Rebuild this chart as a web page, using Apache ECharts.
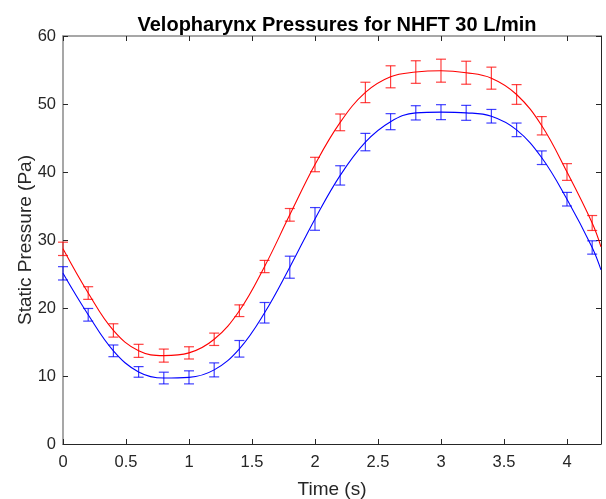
<!DOCTYPE html>
<html>
<head>
<meta charset="utf-8">
<script src="https://cdn.jsdelivr.net/npm/echarts@6/dist/echarts.min.js"></script>
<style>
  html, body { margin: 0; padding: 0; background: #fff; }
  #main { width: 606px; height: 499px; }
</style>
</head>
<body>
<div id="main"></div>
<script>
// sample times (s)
var times = [0, 0.2, 0.4, 0.6, 0.8, 1.0, 1.2, 1.4, 1.6, 1.8, 2.0, 2.2, 2.4, 2.6, 2.8, 3.0, 3.2, 3.4, 3.6, 3.8, 4.0, 4.2];
// red series mean and half error
var redMean = [28.7, 22.2, 16.7, 13.7, 13.0, 13.4, 15.4, 19.6, 26.1, 33.7, 41.1, 47.3, 51.7, 54.0, 54.7, 54.9, 54.6, 53.8, 51.4, 46.8, 40.0, 32.5];
var redErr = [0.98, 0.93, 0.98, 0.96, 0.96, 0.90, 0.91, 0.86, 0.90, 0.93, 1.06, 1.23, 1.50, 1.62, 1.66, 1.69, 1.69, 1.62, 1.45, 1.35, 1.23, 1.10];
// blue series mean and half error
var blueMean = [25.1, 19.0, 13.7, 10.6, 9.7, 9.8, 10.9, 14.0, 19.3, 26.0, 33.1, 39.5, 44.4, 47.4, 48.7, 48.8, 48.7, 48.2, 46.2, 42.1, 36.0, 28.9];
var blueErr = [0.98, 0.93, 0.86, 0.78, 0.86, 0.96, 1.03, 1.22, 1.51, 1.62, 1.67, 1.42, 1.28, 1.18, 1.05, 1.10, 1.10, 1.00, 1.00, 1.00, 1.00, 0.98];
// end of the fitted curves at the right edge
var endTime = 4.27;
var redEnd = 29.0;
var blueEnd = 25.6;

var chart = echarts.init(document.getElementById('main'));

function curveData(mean, endVal){
    var d = [];
    for (var i = 0; i < times.length; i++) {
        d.push([times[i], mean[i]]);
    }
    d.push([endTime, endVal]);
    return d;
}

function errData(mean, err){
    var d = [];
    for (var i = 0; i < times.length; i++) {
        d.push([times[i], mean[i] - err[i], mean[i] + err[i]]);
    }
    return d;
}

// vertical bar with caps
function errRender(color){
    return function(params, api){
        var lo = api.coord([api.value(0), api.value(1)]);
        var hi = api.coord([api.value(0), api.value(2)]);
        var w = 5;
        var style = { stroke: color, lineWidth: 1.2, opacity: 0.75 };
        return {
            type: 'group',
            children: [
                { type: 'line', shape: { x1: lo[0], y1: lo[1], x2: hi[0], y2: hi[1] }, style: style },
                { type: 'line', shape: { x1: lo[0] - w, y1: lo[1], x2: lo[0] + w, y2: lo[1] }, style: style },
                { type: 'line', shape: { x1: hi[0] - w, y1: hi[1], x2: hi[0] + w, y2: hi[1] }, style: style }
            ]
        };
    };
}

var axisCol = '#262626';
var fontFam = 'Liberation Sans, Arial, sans-serif';

var options = {
    backgroundColor: '#fff',
    animation: false,
    title: {
        text: 'Velopharynx Pressures for NHFT 30 L/min',
        left: 332,
        textAlign: 'center',
        top: 10,
        textStyle: { fontFamily: fontFam, fontSize: 20, fontWeight: 'bold', color: '#000' }
    },
    grid: { left: 63, right: 5, top: 36, bottom: 55, show: false, outerBoundsMode: 'none' },
    xAxis: [{
        type: 'value',
        min: 0,
        max: endTime,
        interval: 0.5,
        name: 'Time (s)',
        nameLocation: 'middle',
        nameGap: 36,
        nameMoveOverlap: false,
        nameTextStyle: { fontFamily: fontFam, fontSize: 19, color: axisCol },
        axisLine: { onZero: false, lineStyle: { color: axisCol, width: 1 } },
        axisTick: { inside: true, length: 5, lineStyle: { color: axisCol } },
        axisLabel: { fontFamily: fontFam, fontSize: 16.5, color: axisCol, margin: 10, showMaxLabel: false },
        splitLine: { show: false }
    }, {
        type: 'value',
        position: 'top',
        min: 0,
        max: endTime,
        interval: 0.5,
        axisLine: { show: true, onZero: false, lineStyle: { color: '#8a8a8a', width: 1.5 } },
        axisTick: { inside: true, length: 5, lineStyle: { color: axisCol } },
        axisLabel: { show: false },
        splitLine: { show: false }
    }],
    yAxis: [{
        type: 'value',
        min: 0,
        max: 60,
        interval: 10,
        name: 'Static Pressure (Pa)',
        nameLocation: 'middle',
        nameGap: 28,
        nameMoveOverlap: false,
        nameTextStyle: { fontFamily: fontFam, fontSize: 19, color: axisCol },
        axisLine: { show: true, onZero: false, lineStyle: { color: '#8a8a8a', width: 1.5 } },
        axisTick: { inside: true, length: 5, lineStyle: { color: axisCol } },
        axisLabel: { fontFamily: fontFam, fontSize: 16.5, color: axisCol, margin: 7 },
        splitLine: { show: false }
    }, {
        type: 'value',
        position: 'right',
        min: 0,
        max: 60,
        interval: 10,
        axisLine: { show: true, onZero: false, lineStyle: { color: axisCol, width: 1 } },
        axisTick: { inside: true, length: 5, lineStyle: { color: axisCol } },
        axisLabel: { show: false },
        splitLine: { show: false }
    }],
    series: [{
        type: 'line',
        data: curveData(redMean, redEnd),
        smooth: 0.4,
        showSymbol: false,
        lineStyle: { color: '#ff0000', width: 1.1 },
        clip: true
    }, {
        type: 'line',
        data: curveData(blueMean, blueEnd),
        smooth: 0.4,
        showSymbol: false,
        lineStyle: { color: '#0000ff', width: 1.1 },
        clip: true
    }, {
        type: 'custom',
        renderItem: errRender('#ff0000'),
        data: errData(redMean, redErr),
        encode: { x: 0, y: [1, 2] },
        clip: false
    }, {
        type: 'custom',
        renderItem: errRender('#0000ff'),
        data: errData(blueMean, blueErr),
        encode: { x: 0, y: [1, 2] },
        clip: false
    }]
};

chart.setOption(options);
</script>
</body>
</html>
